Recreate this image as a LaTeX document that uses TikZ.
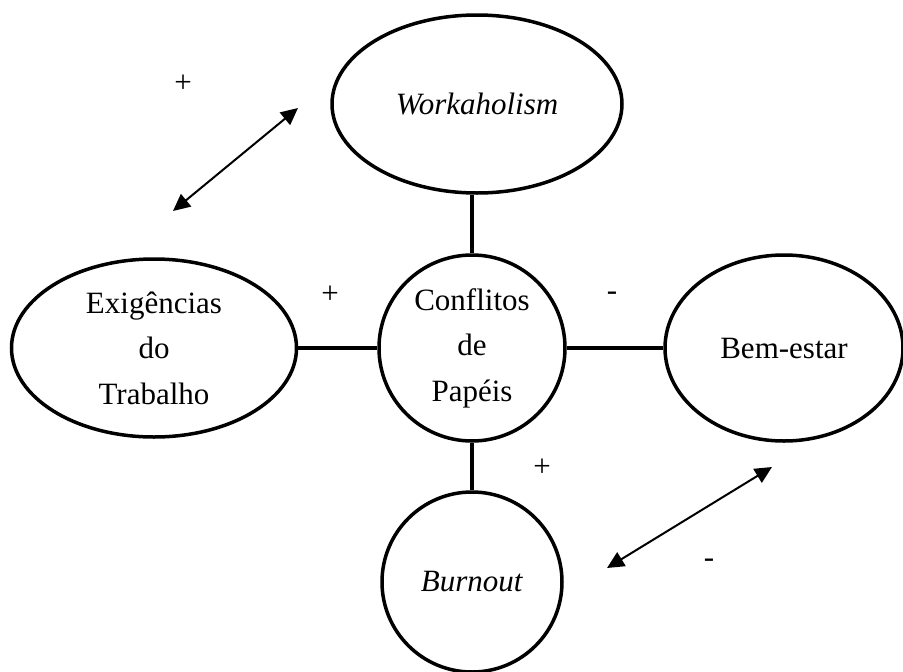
\documentclass[tikz,border=0pt]{standalone}
\usepackage{fontspec}
\setmainfont{Liberation Serif}
\usepackage{tikz}
\usetikzlibrary{arrows.meta, shapes.geometric}

\begin{document}
\begin{tikzpicture}[
    x=1pt, y=-1pt,
    var/.style={draw, ellipse, line width=3.5pt, inner sep=0pt, align=center,
                font=\fontsize{31}{45.5}\selectfont},
    sign/.style={inner sep=0pt, font=\fontsize{31}{45.5}\selectfont},
    link/.style={line width=4pt},
    rel/.style={{Triangle[length=17pt,width=16pt]}-{Triangle[length=17pt,width=16pt]}, line width=2pt}
]
\useasboundingbox (0,0) rectangle (903,672);

\node[var, minimum width=290pt, minimum height=178pt] (work) at (477,104) {\textit{Workaholism}};
\node[var, minimum width=186pt, minimum height=186pt] (conf) at (472,348) {Conflitos\\de\\Papéis};
\node[var, minimum width=285pt, minimum height=178pt] (exig) at (154,348) {Exigências\\do\\Trabalho};
\node[var, minimum width=238pt, minimum height=186pt] (bem)  at (784,348) {Bem-estar};
\node[var, minimum width=180pt, minimum height=180pt] (burn) at (472,582) {\textit{Burnout}};

\draw[link] (work.south -| conf.north) -- (conf.north);
\draw[link] (exig.east) -- (conf.west);
\draw[link] (conf.east) -- (bem.west);
\draw[link] (conf.south) -- (burn.north);

% double arrows
\coordinate (wa) at (173,211);
\coordinate (wb) at (298,108);
\coordinate (ba) at (607,568);
\coordinate (bb) at (772,467);
\draw[rel] (wa) -- (wb);
\draw[rel] (ba) -- (bb);

\node[sign] (s1) at (183,84)  {+};
\node[sign] (s2) at (330,295) {+};
\node[sign] (s3) at (612,296) {-};
\node[sign] (s4) at (542,468) {+};
\node[sign] (s5) at (709,563) {-};
\end{tikzpicture}
\end{document}
